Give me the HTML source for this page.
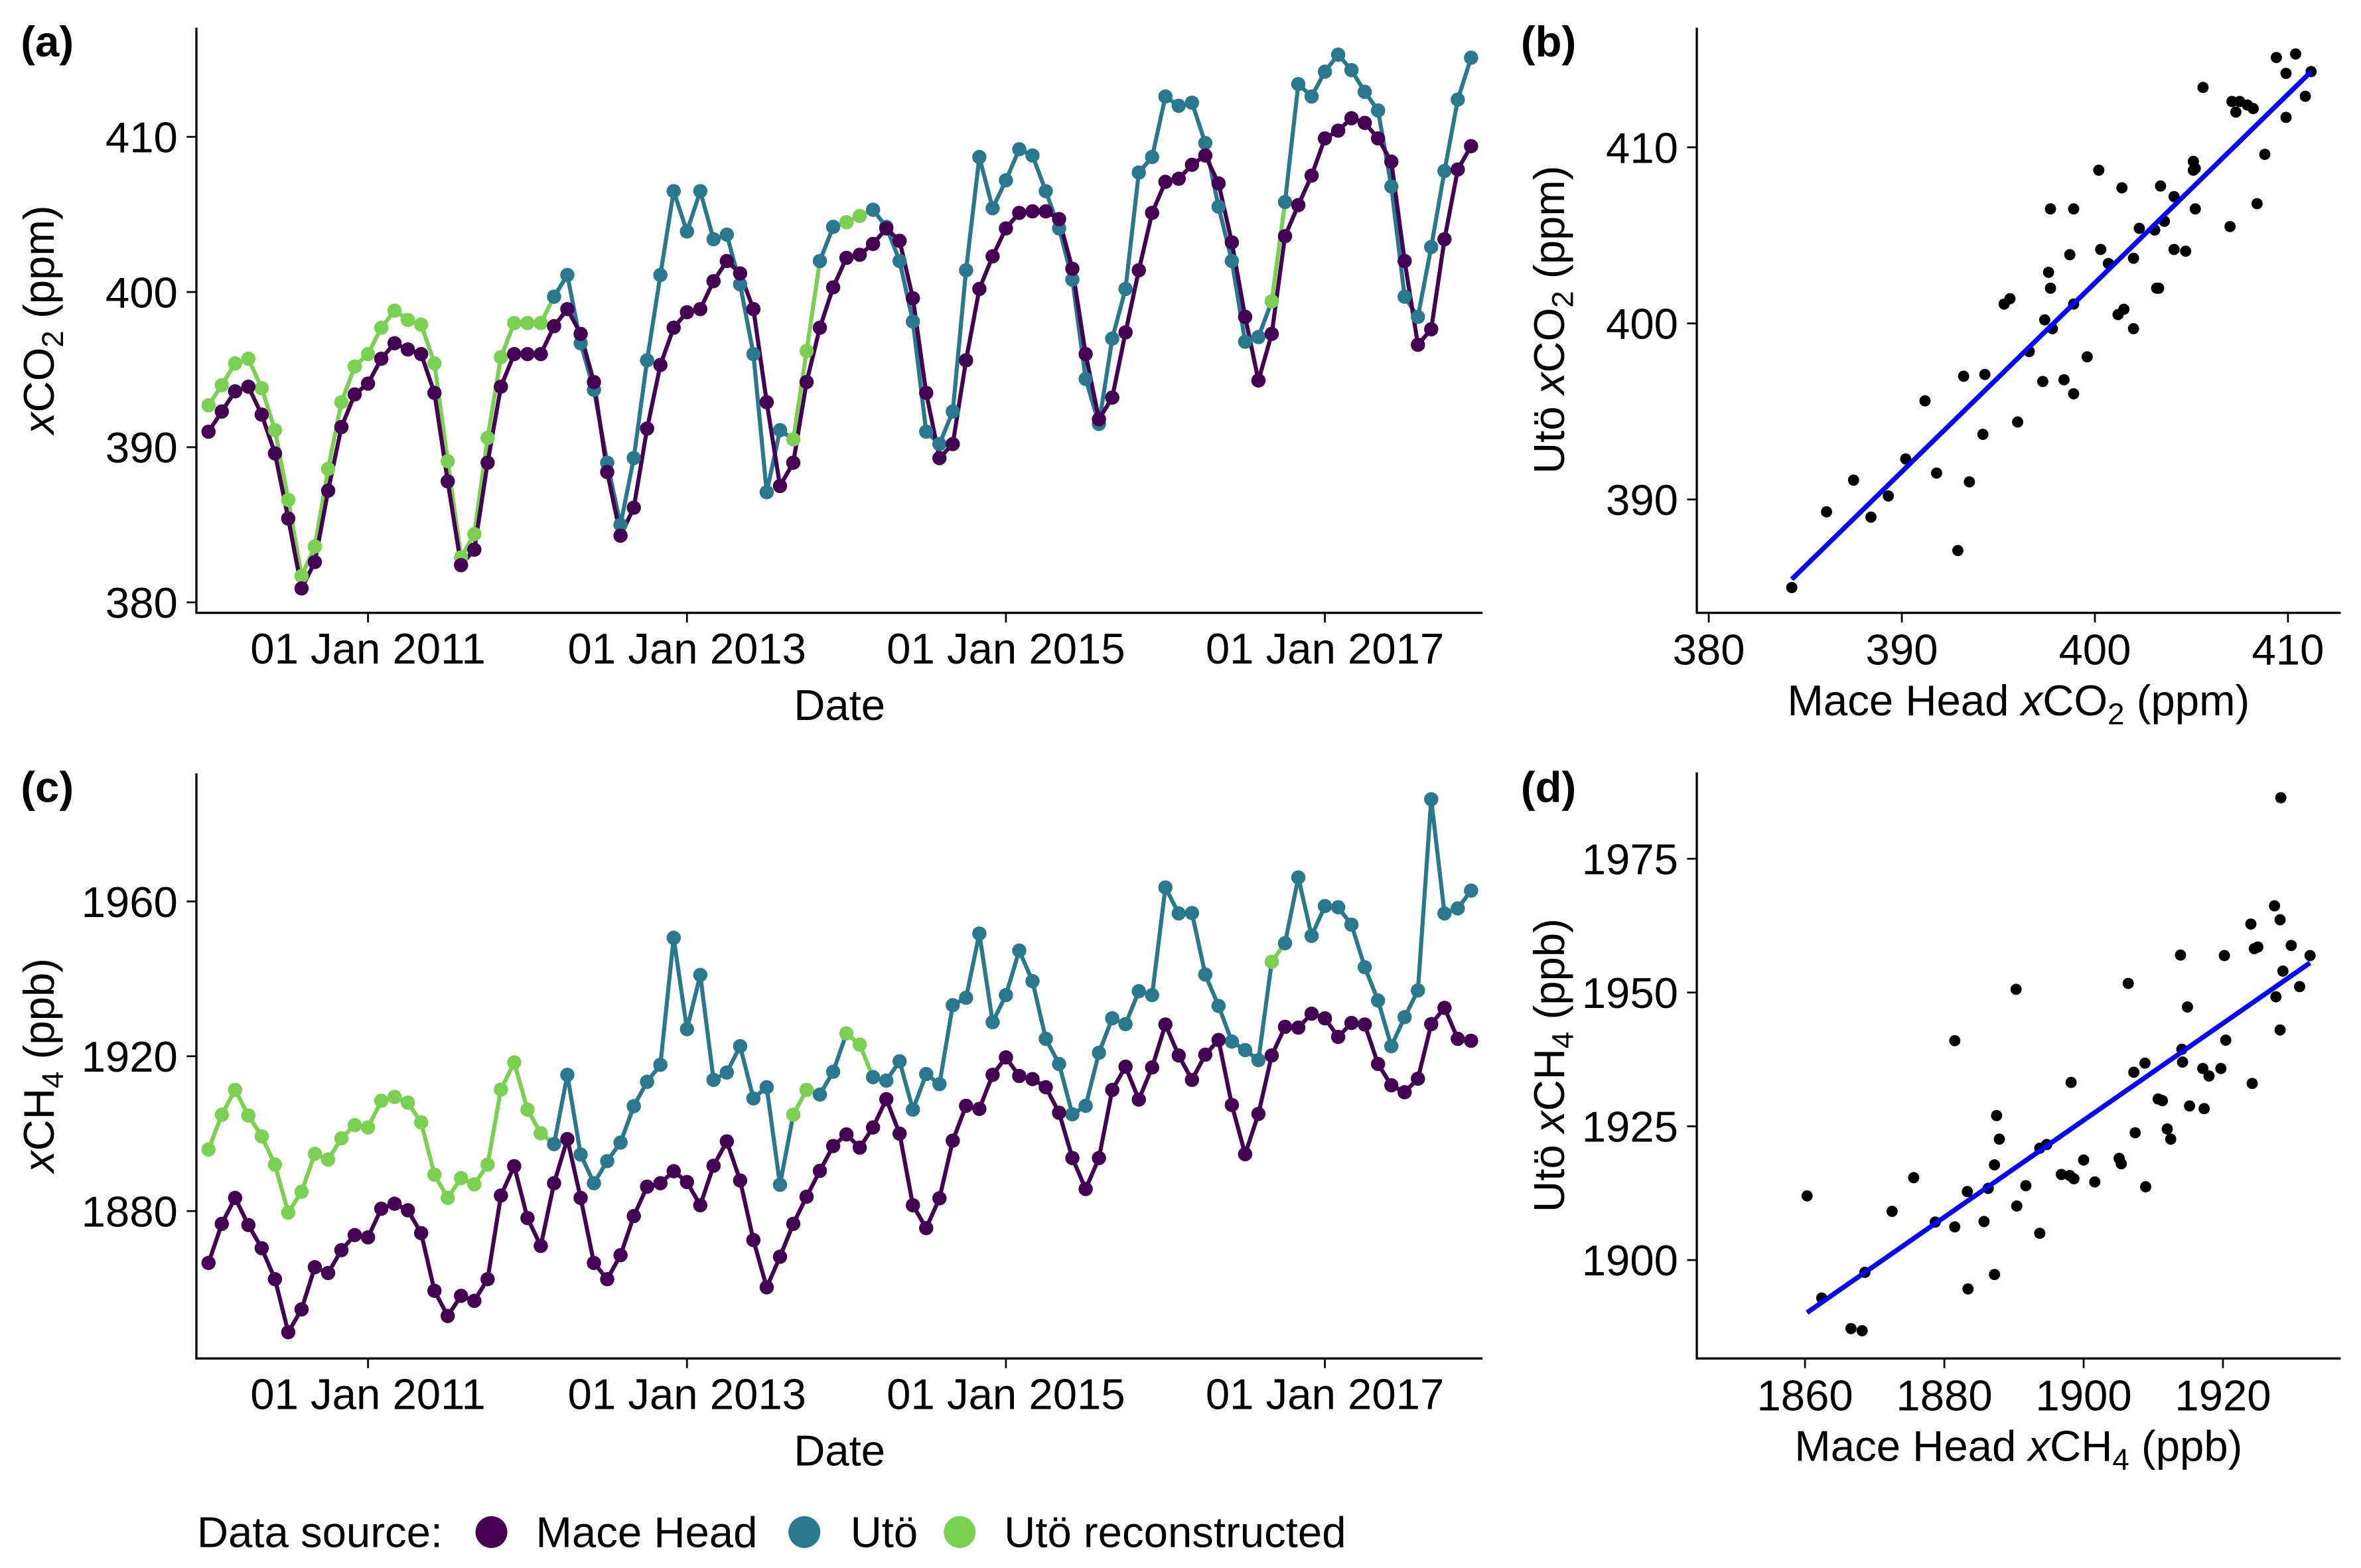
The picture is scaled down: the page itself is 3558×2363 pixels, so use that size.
<!DOCTYPE html>
<html><head><meta charset="utf-8"><title>CO2 and CH4 at Mace Head and Utö</title>
<style>
html,body{margin:0;padding:0;background:#fff;}
svg{display:block;font-family:"Liberation Sans",Arial,sans-serif;}
</style></head>
<body>
<svg id="fig" width="3558" height="2363" viewBox="0 0 1558 1034.7" preserveAspectRatio="none" xmlns="http://www.w3.org/2000/svg">
<rect x="0" y="0" width="1558" height="1035" fill="#fff"/>
<g id="layer"></g>
<g font-size="28.6" fill="#000">
<text x="13.7" y="37.2" font-weight="bold">(a)</text>
<text x="1003.6" y="37.2" font-weight="bold">(b)</text>
<text x="13.7" y="529.2" font-weight="bold">(c)</text>
<text x="1003.6" y="529.2" font-weight="bold">(d)</text>

<text x="554" y="475" text-anchor="middle">Date</text>
<text x="554" y="967" text-anchor="middle">Date</text>

<text transform="translate(35.5,211) rotate(-90)" text-anchor="middle"><tspan font-style="italic">x</tspan>CO<tspan dy="6" font-size="20">2</tspan><tspan dy="-6"> (ppm)</tspan></text>
<text transform="translate(35.5,703) rotate(-90)" text-anchor="middle"><tspan font-style="italic">x</tspan>CH<tspan dy="6" font-size="20">4</tspan><tspan dy="-6"> (ppb)</tspan></text>

<text transform="translate(1032,211) rotate(-90)" text-anchor="middle">Utö <tspan font-style="italic">x</tspan>CO<tspan dy="6" font-size="20">2</tspan><tspan dy="-6"> (ppm)</tspan></text>
<text transform="translate(1032,703) rotate(-90)" text-anchor="middle">Utö <tspan font-style="italic">x</tspan>CH<tspan dy="6" font-size="20">4</tspan><tspan dy="-6"> (ppb)</tspan></text>

<text x="1332" y="472" text-anchor="middle">Mace Head <tspan font-style="italic">x</tspan>CO<tspan dy="6" font-size="20">2</tspan><tspan dy="-6"> (ppm)</tspan></text>
<text x="1332" y="964" text-anchor="middle">Mace Head <tspan font-style="italic">x</tspan>CH<tspan dy="6" font-size="20">4</tspan><tspan dy="-6"> (ppb)</tspan></text>

<g>
<text x="130" y="1021">Data source:</text>
<circle cx="324.3" cy="1011" r="10.5" fill="#440154"/>
<text x="353.6" y="1021">Mace Head</text>
<circle cx="530.8" cy="1011" r="10.5" fill="#2a788e"/>
<text x="561.2" y="1021">Utö</text>
<circle cx="633.3" cy="1011" r="10.5" fill="#7ad151"/>
<text x="662.6" y="1021">Utö reconstructed</text>
</g>
</g>
</svg>
<script>
const months = Array.from({length:96},(_,i)=>i);
const dateTickMonths = [12,36,60,84];
const dateTickLabels = ["01 Jan 2011","01 Jan 2013","01 Jan 2015","01 Jan 2017"];

const maceCO2 = [391.0,392.3,393.6,393.9,392.1,389.6,385.4,380.9,382.6,387.2,391.3,393.4,
394.1,395.7,396.7,396.3,396.0,393.5,387.8,382.4,383.4,389.0,393.9,396.0,
396.0,396.0,397.8,398.9,397.3,394.2,388.4,384.3,386.1,391.2,395.3,397.7,
398.7,398.9,400.7,402.0,401.2,398.9,392.9,387.5,389.0,394.2,397.7,400.3,
402.2,402.4,403.1,404.1,403.3,399.6,393.5,389.3,390.2,395.6,400.2,402.3,
404.1,405.1,405.2,405.2,404.7,401.5,396.0,391.8,393.2,397.4,401.4,405.1,
407.1,407.3,408.2,408.8,407.0,403.2,398.4,394.3,397.3,403.6,405.6,407.5,
409.9,410.4,411.2,410.9,409.9,408.4,402.0,396.6,397.6,403.4,407.9,409.4];

const utoCO2 = [392.7,394.0,395.4,395.7,393.8,391.1,386.6,381.7,383.6,388.6,392.9,395.2,
396.0,397.7,398.8,398.2,397.9,395.4,389.1,382.9,384.4,390.6,395.8,398.0,
398.0,398.0,399.7,401.1,396.7,393.7,389.0,385.0,389.3,395.6,401.1,406.5,
403.9,406.5,403.4,403.7,400.5,396.0,387.1,391.1,390.5,396.2,402.0,404.2,
404.5,404.9,405.3,404.2,402.0,398.1,391.0,390.2,392.3,401.4,408.7,405.4,
407.2,409.2,408.8,406.5,404.1,400.8,394.4,391.5,397.0,400.2,407.7,408.7,
412.6,412.0,412.2,409.6,405.5,402.0,396.8,397.1,399.4,405.8,413.4,412.6,
414.2,415.3,414.3,412.9,411.7,406.8,399.7,398.4,402.9,407.8,412.4,415.1];
const utoCO2Reconstructed = [1,1,1,1,1,1,1,1,1,1,1,1, 1,1,1,1,1,1,1,1,1,1,1,1,
1,1,0,0,0,0,0,0,0,0,0,0, 0,0,0,0,0,0,0,0,1,1,0,0,
1,1,0,0,0,0,0,0,0,0,0,0, 0,0,0,0,0,0,0,0,0,0,0,0,
0,0,0,0,0,0,0,0,1,0,0,0, 0,0,0,0,0,0,0,0,0,0,0,0];

const maceCH4 = [1866.6,1876.7,1883.4,1876.4,1870.4,1862.4,1848.7,1854.6,1865.5,1864.0,1869.9,1873.8,
1873.2,1880.6,1881.9,1880.2,1874.3,1859.4,1852.9,1858.1,1856.8,1862.4,1884.0,1891.6,
1878.2,1871.0,1887.2,1898.6,1883.4,1866.6,1862.4,1868.6,1878.7,1886.3,1887.2,1890.3,
1887.5,1881.5,1891.7,1898.0,1887.9,1872.5,1860.3,1868.2,1876.7,1883.7,1890.4,1896.8,
1899.8,1896.4,1901.6,1908.9,1900.0,1881.5,1875.6,1883.3,1898.2,1907.2,1906.4,1915.2,
1919.7,1914.9,1914.1,1912.0,1905.4,1893.7,1885.7,1893.7,1911.3,1917.3,1908.8,1917.1,
1928.2,1920.2,1913.9,1920.4,1924.2,1907.4,1894.7,1905.1,1920.2,1927.6,1927.4,1931.0,
1929.8,1925.0,1928.6,1928.2,1918.0,1912.5,1910.7,1914.2,1928.3,1932.5,1924.5,1924.0];

const utoCH4 = [1895.9,1904.9,1911.3,1904.7,1899.3,1892.0,1879.6,1885.0,1894.8,1893.3,1898.8,1902.2,
1901.6,1908.5,1909.5,1908.0,1902.9,1889.4,1883.4,1888.5,1886.9,1892.0,1911.4,1918.4,
1906.2,1900.1,1897.3,1915.2,1894.6,1887.2,1892.9,1897.7,1907.1,1913.4,1917.8,1950.6,
1927.0,1941.0,1913.9,1915.8,1922.6,1909.1,1912.0,1886.8,1904.9,1911.3,1910.1,1916.0,
1925.9,1923.0,1914.6,1913.7,1918.7,1906.2,1915.4,1912.8,1933.2,1935.1,1951.7,1928.8,
1935.8,1947.3,1939.4,1924.5,1918.0,1905.0,1907.2,1920.9,1929.8,1928.3,1936.8,1935.8,
1963.6,1956.9,1957.0,1941.1,1933.0,1923.8,1921.6,1919.0,1944.4,1949.2,1966.2,1951.1,
1958.8,1958.5,1954.0,1943.0,1934.4,1922.6,1930.1,1937.0,1986.4,1956.9,1958.2,1962.8];
const utoCH4Reconstructed = utoCO2Reconstructed;

const co2YTicks = [380,390,400,410];
const ch4YTicks = [1880,1920,1960];
const bXTicks = [380,390,400,410];
const bYTicks = [390,400,410];
const dXTicks = [1860,1880,1900,1920];
const dYTicks = [1900,1925,1950,1975];

const NS="http://www.w3.org/2000/svg";
const layer=document.getElementById('layer');
const C_MACE="#440154", C_UTO="#2a788e", C_REC="#7ad151";
const LW=2.7, PR=4.7;
function mk(tag,attrs,parent){const e=document.createElementNS(NS,tag);for(const k in attrs)e.setAttribute(k,attrs[k]);(parent||layer).appendChild(e);return e;}

function axes(p,name){
  const g=mk('g',{});
  
  
  const yl=mk('line',{x1:p.left,y1:p.top,x2:p.left,y2:p.bottom,stroke:'#000','stroke-width':1.45},g);
  
  
  const xl=mk('line',{x1:p.left-0.7,y1:p.bottom,x2:p.right,y2:p.bottom,stroke:'#000','stroke-width':1.45},g);
  
  
  return g;
}
function yTicks(p,ticks,labels,sy,name){
  ticks.forEach((v,i)=>{
    const y=sy(v);
    const t=mk('line',{x1:p.left-6.4,y1:y,x2:p.left,y2:y,stroke:'#000','stroke-width':1.2});
    
    
    const tx=mk('text',{x:p.left-12.3,y:y+10.2,'text-anchor':'end','font-size':28.6,fill:'#000'});
    tx.textContent=labels[i];
    
    
  });
}
function xTicks(p,ticks,labels,sx,name,baseline){
  ticks.forEach((v,i)=>{
    const x=sx(v);
    const t=mk('line',{x1:x,y1:p.bottom,x2:x,y2:p.bottom+6.4,stroke:'#000','stroke-width':1.2});
    
    
    const tx=mk('text',{x:x,y:baseline,'text-anchor':'middle','font-size':28.6,fill:'#000'});
    tx.textContent=labels[i];
    
    
  });
}

function timePanel(p,mace,uto,rec,yTickVals,name){
  const sx=m=>137.6+8.77*m;
  const sy=v=>p.y0-(v-p.v0)*p.k;
  axes(p,name);
  yTicks(p,yTickVals,yTickVals.map(String),sy,name);
  xTicks(p,dateTickMonths,dateTickLabels,sx,name,p.bottom+33.4);
  for(let i=0;i<uto.length-1;i++){
    const s=mk('line',{x1:sx(months[i]),y1:sy(uto[i]),x2:sx(months[i+1]),y2:sy(uto[i+1]),stroke:rec[i]?C_REC:C_UTO,'stroke-width':LW,'stroke-linecap':'round'});
    
    
  }
  const pts=months.map(m=>sx(m).toFixed(2)+','+sy(mace[m]).toFixed(2)).join(' ');
  const ml=mk('polyline',{points:pts,fill:'none',stroke:C_MACE,'stroke-width':LW,'stroke-linejoin':'round'});
  
  
  uto.forEach((v,i)=>{
    const c=mk('circle',{cx:sx(months[i]),cy:sy(v),r:PR,fill:rec[i]?C_REC:C_UTO});
    
    
  });
  mace.forEach((v,i)=>{
    const c=mk('circle',{cx:sx(months[i]),cy:sy(v),r:PR,fill:C_MACE});
    
    
  });
}

function scatterPanel(p,mace,uto,rec,xt,yt,name){
  const sx=v=>p.x0+(v-p.xv0)*p.kx;
  const sy=v=>p.y0-(v-p.yv0)*p.ky;
  axes(p,name);
  yTicks(p,yt,yt.map(String),sy,name);
  xTicks(p,xt,xt.map(String),sx,name,p.bottom+34.2);
  const xs=[],ys=[];
  mace.forEach((v,i)=>{ if(!rec[i]){xs.push(v);ys.push(uto[i]);} });
  xs.forEach((x,i)=>{
    const c=mk('circle',{cx:sx(x),cy:sy(ys[i]),r:3.7,fill:'#000'});
    
    
  });
  const n=xs.length, mx=xs.reduce((a,b)=>a+b,0)/n, my=ys.reduce((a,b)=>a+b,0)/n;
  let sxy=0,sxx=0; xs.forEach((x,i)=>{sxy+=(x-mx)*(ys[i]-my);sxx+=(x-mx)*(x-mx);});
  const b=sxy/sxx, a=my-b*mx;
  const xmin=Math.min(...xs), xmax=Math.max(...xs);
  const l=mk('line',{x1:sx(xmin),y1:sy(a+b*xmin),x2:sx(xmax),y2:sy(a+b*xmax),stroke:'#0000ff','stroke-width':3.2});
  
  
}

timePanel({left:129.6,right:978.3,top:18.3,bottom:404.4,y0:397.5,v0:380,k:10.24},maceCO2,utoCO2,utoCO2Reconstructed,co2YTicks,'panel-a');
timePanel({left:129.6,right:978.3,top:510.3,bottom:896.4,y0:697.0,v0:1920,k:2.554},maceCH4,utoCH4,utoCH4Reconstructed,ch4YTicks,'panel-c');
scatterPanel({left:1119.7,right:1544.6,top:18.3,bottom:404.4,x0:1127.6,xv0:380,kx:12.74,y0:97.2,yv0:410,ky:11.62},maceCO2,utoCO2,utoCO2Reconstructed,bXTicks,bYTicks,'panel-b');
scatterPanel({left:1119.7,right:1544.6,top:509.7,bottom:896.4,x0:1191.1,xv0:1860,kx:4.597,y0:831.5,yv0:1900,ky:3.531},maceCH4,utoCH4,utoCH4Reconstructed,dXTicks,dYTicks,'panel-d');
</script>
</body></html>
